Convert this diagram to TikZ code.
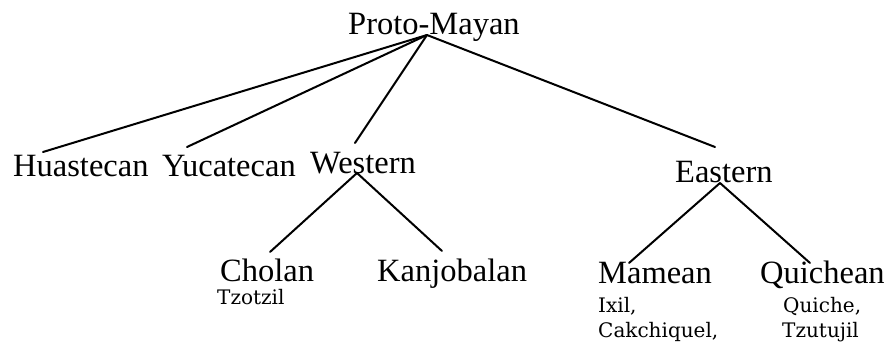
\documentclass[tikz,border=0pt]{standalone}
\usepackage{fontspec}
\setmainfont{Liberation Serif}
\newfontfamily\smallserif{DejaVu Serif}
\begin{document}
\begin{tikzpicture}[x=1pt,y=-1pt,
  big/.style={anchor=base west,inner sep=0pt,font=\fontsize{32.5}{32.5}\selectfont},
  small/.style={anchor=base west,inner sep=0pt,font=\smallserif\fontsize{20}{20}\selectfont},
  branch/.style={line width=2pt,line cap=round}]
\useasboundingbox (0,0) rectangle (884,345);
% labels
\node[big] (pm) at (348,35) {Proto-Mayan};
\node[big] (hua) at (13,176) {Huastecan};
\node[big] (yuc) at (162,176) {Yucatecan};
\node[big] (wes) at (310,173) {Western};
\node[big] (eas) at (675,182) {Eastern};
\node[big] (cho) at (220,281) {Cholan};
\node[small] (tzo) at (217,304) {Tzotzil};
\node[big] (kan) at (377,281) {Kanjobalan};
\node[big] (mam) at (598,283) {Mamean};
\node[small] (ixi) at (598,312) {Ixil,};
\node[small] (cak) at (598,337) {Cakchiquel,};
\node[big] (qui) at (760,283) {Quichean};
\node[small] (qch) at (783,312) {Quiche,};
\node[small] (tzu) at (782,337) {Tzutujil};
% connection points
\coordinate (pmA) at (427,35);
\coordinate (huaT) at (43,152);
\coordinate (yucT) at (187,147);
\coordinate (wesT) at (355,143);
\coordinate (easT) at (715,147);
\coordinate (wesA) at (357,173);
\coordinate (choT) at (270,252);
\coordinate (kanT) at (442,251);
\coordinate (easA) at (720,183);
\coordinate (mamT) at (629,263);
\coordinate (quiT) at (810,263);
% branches
\draw[branch] (pmA) -- (huaT);
\draw[branch] (pmA) -- (yucT);
\draw[branch] (pmA) -- (wesT);
\draw[branch] (pmA) -- (easT);
\draw[branch] (wesA) -- (choT);
\draw[branch] (wesA) -- (kanT);
\draw[branch] (easA) -- (mamT);
\draw[branch] (easA) -- (quiT);
\end{tikzpicture}
\end{document}
